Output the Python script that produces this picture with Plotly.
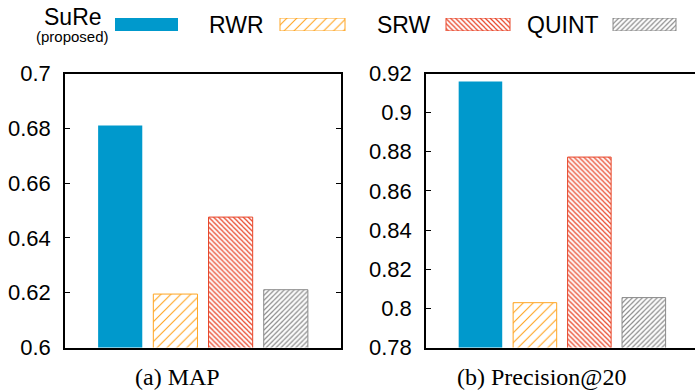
import plotly.graph_objects as go

# ---- data ----
methods = ["SuRe", "RWR", "SRW", "QUINT"]
map_values = [0.681, 0.6195, 0.6476, 0.6211]
p20_values = [0.9159, 0.8029, 0.8773, 0.8055]
map_ticks = [0.6, 0.62, 0.64, 0.66, 0.68, 0.7]
map_ticklabels = ["0.6", "0.62", "0.64", "0.66", "0.68", "0.7"]
p20_ticks = [0.78, 0.8, 0.82, 0.84, 0.86, 0.88, 0.9, 0.92]
p20_ticklabels = ["0.78", "0.8", "0.82", "0.84", "0.86", "0.88", "0.9", "0.92"]
captions = ["(a) MAP", "(b) Precision@20"]

# ---- styles ----
W, H = 695, 390
colors = ["#0099cc", "#ffa522", "#e8462a", "#8a8a8a"]
shapes_ = ["", "/", "\\", "/"]
psize = [None, 7, 3.5, 3.5]
psolid = [None, 0.16, 0.35, 0.35]

def marker(i):
    m = dict(color=colors[i] if i == 0 else "white",
             line=dict(color=colors[i], width=1 if i else 0))
    if shapes_[i]:
        m["pattern"] = dict(shape=shapes_[i], fgcolor=colors[i], bgcolor="white",
                            size=psize[i], solidity=psolid[i], fillmode="replace")
    return m

fig = go.Figure()
for i, mth in enumerate(methods):
    fig.add_trace(go.Bar(x=[mth], y=[map_values[i]], marker=marker(i), width=0.8,
                         xaxis="x", yaxis="y", showlegend=False))
    fig.add_trace(go.Bar(x=[mth], y=[p20_values[i]], marker=marker(i), width=0.8,
                         xaxis="x2", yaxis="y2", showlegend=False))

# legend swatches drawn as bars on a hidden axis (pixel units)
sw_start = [115, 280, 446, 613]
sw_len = [63, 65, 64, 63]
for i, mth in enumerate(methods):
    fig.add_trace(go.Bar(y=[0], x=[sw_len[i]], base=[sw_start[i]], orientation="h",
                         width=1, marker=marker(i), xaxis="x3", yaxis="y3",
                         showlegend=False))

def px_x(p):
    return p / W

def px_y(p):
    return 1 - p / H

tickfont = dict(family="Liberation Sans, Arial", size=22, color="black")
axis_common = dict(showline=True, linecolor="black", linewidth=1.5,
                   ticks="inside", ticklen=5, tickcolor="black", tickwidth=1,
                   showgrid=False, zeroline=False, tickfont=tickfont, automargin=False)
xcommon = dict(showticklabels=False, showline=True, linecolor="black", linewidth=1.5,
               mirror=True, ticks="", showgrid=False, zeroline=False, type="category",
               categoryorder="array", categoryarray=methods, automargin=False)

ydom = [px_y(347.5), px_y(73.5)]
fig.update_layout(
    template="none",
    width=W, height=H, margin=dict(l=0, r=0, t=0, b=0, pad=0, autoexpand=False),
    paper_bgcolor="white", plot_bgcolor="white", barmode="overlay",
    xaxis=dict(domain=[px_x(65), px_x(341)], range=[-1, 4], anchor="y", **xcommon),
    yaxis=dict(domain=ydom, range=[0.6, 0.7], tickvals=map_ticks, mirror="ticks",
               ticktext=map_ticklabels, anchor="x", ticklabelstandoff=8, **axis_common),
    xaxis2=dict(domain=[px_x(426), 1.0], range=[-1, 3.94], anchor="y2", **xcommon),
    yaxis2=dict(domain=ydom, range=[0.78, 0.92], tickvals=p20_ticks, mirror=False,
                ticktext=p20_ticklabels, anchor="x2", ticklabelstandoff=8, **axis_common),
    xaxis3=dict(domain=[0, 1], range=[0, W], visible=False, anchor="y3", automargin=False),
    yaxis3=dict(domain=[px_y(31), px_y(18)], range=[-0.5, 0.5], visible=False,
                anchor="x3", automargin=False),
)

# mask strip at the right edge (the reference panel is cut off by the page edge)
fig.add_shape(type="rect", xref="paper", yref="paper", x0=px_x(693.5), x1=1.0,
              y0=px_y(346), y1=px_y(75), fillcolor="white", line=dict(width=0),
              layer="above")

legfont = dict(family="Liberation Sans, Arial", size=23, color="black")
capfont = dict(family="Liberation Serif, Times New Roman", size=24, color="black")
ann = [
    dict(text="SuRe", x=px_x(72.5), y=px_y(17.5), font=legfont),
    dict(text="(proposed)", x=px_x(72.5), y=px_y(36.5),
         font=dict(family="Liberation Sans, Arial", size=15, color="black")),
    dict(text=methods[1], x=px_x(236.5), y=px_y(25), font=legfont),
    dict(text=methods[2], x=px_x(404), y=px_y(25), font=legfont),
    dict(text=methods[3], x=px_x(562.5), y=px_y(25), font=legfont),
    dict(text=captions[0], x=px_x(177), y=px_y(377), font=capfont),
    dict(text=captions[1], x=px_x(541), y=px_y(377), font=capfont),
]
for a in ann:
    fig.add_annotation(xref="paper", yref="paper", xanchor="center", yanchor="middle",
                       showarrow=False, **a)

fig.write_html("out.html")
